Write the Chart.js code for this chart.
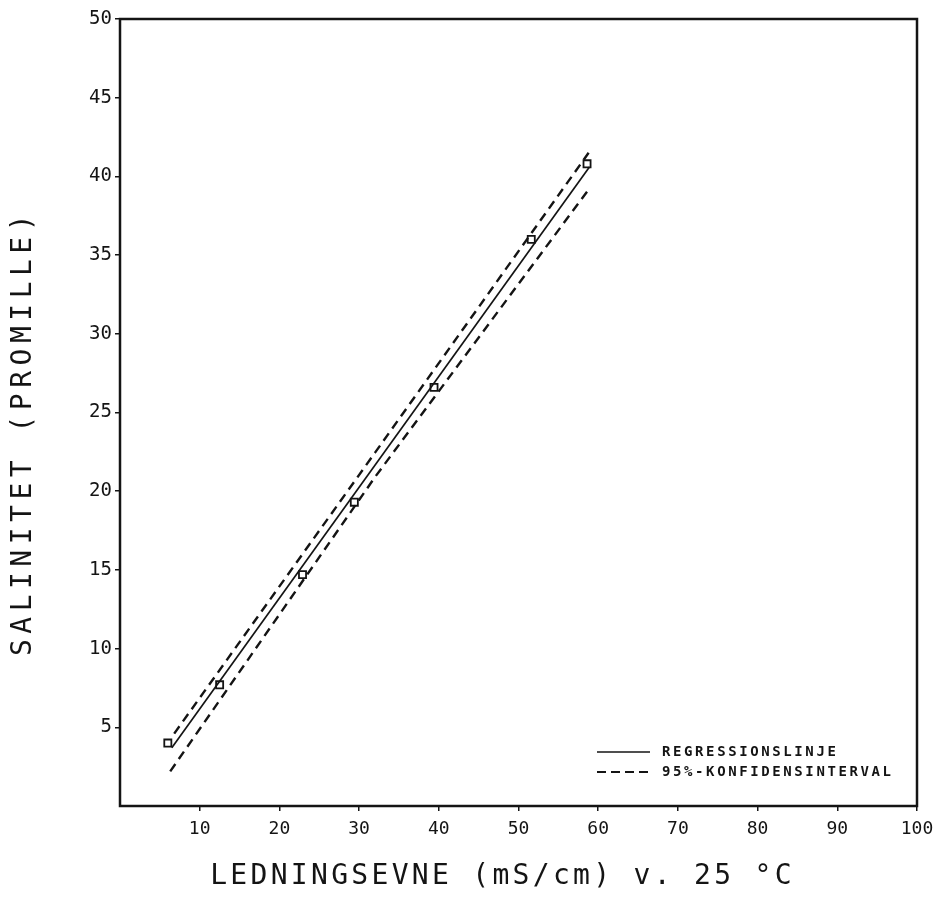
<!DOCTYPE html>
<html>
<head>
<meta charset="utf-8">
<script src="https://cdn.jsdelivr.net/npm/chart.js@4"></script>
<style>
html,body{margin:0;padding:0;background:#fff;}
#wrap{width:937px;height:898px;}
</style>
</head>
<body>
<div id="wrap"><canvas id="c" width="937" height="898"></canvas></div>
<script>
// ---- data ----
const conductivity = [6.0, 12.5, 22.9, 29.4, 39.4, 51.6, 58.6];
const salinity     = [4.0, 7.7, 14.7, 19.3, 26.6, 36.0, 40.8];

const regressionX = [6.5, 58.9];
const regressionY = [3.7, 40.6];

const upperX = [6.8, 32, 58.8];
const upperY = [4.6, 22.45, 41.5];
const lowerX = [6.3, 32, 59.0];
const lowerY = [2.2, 20.9, 39.3];

const xTicks = [10, 20, 30, 40, 50, 60, 70, 80, 90, 100];
const yTicks = [5, 10, 15, 20, 25, 30, 35, 40, 45, 50];

const xTitle = 'LEDNINGSEVNE (mS/cm) v. 25 °C';
const yTitle = 'SALINITET (PROMILLE)';
const legendLabels = ['REGRESSIONSLINJE', '95%-KONFIDENSINTERVAL'];

const INK = '#141414';
const FONT = "'DejaVu Sans Mono', 'Liberation Mono', monospace";

const pts = (xs, ys) => xs.map((x, i) => ({x: x, y: ys[i]}));

const framePlugin = {
  id: 'frame',
  beforeDraw(chart) {
    const cfg = [
      [chart.scales.y, '5.5px', 0, 20],
      [chart.scales.x, '3.3px', -16, 0]
    ];
    cfg.forEach(([s, sp, dx, dy]) => {
      if (s && !s.__ls) {
        const orig = s.drawTitle;
        s.drawTitle = function () {
          const c = this.ctx;
          c.save();
          c.letterSpacing = sp;
          c.translate(dx, dy);
          orig.apply(this, arguments);
          c.restore();
        };
        s.__ls = true;
      }
    });
  },
  beforeDatasetsDraw(chart) {
    const {ctx, chartArea: a} = chart;
    ctx.save();
    ctx.strokeStyle = INK;
    ctx.lineWidth = 2.5;
    ctx.strokeRect(a.left, a.top, a.right - a.left, a.bottom - a.top);
    ctx.restore();
  },
  afterDatasetsDraw(chart) {
    const {ctx, chartArea: a} = chart;
    const x0 = a.right - 320, x1 = a.right - 267, tx = a.right - 255;
    const rows = [a.bottom - 54, a.bottom - 34];
    const styles = [{dash: [], w: 1.6}, {dash: [9, 5], w: 2.2}];
    ctx.save();
    ctx.strokeStyle = INK;
    ctx.fillStyle = INK;
    rows.forEach((y, i) => {
      ctx.setLineDash(styles[i].dash);
      ctx.lineWidth = styles[i].w;
      ctx.beginPath();
      ctx.moveTo(x0, y);
      ctx.lineTo(x1, y);
      ctx.stroke();
      ctx.setLineDash([]);
      ctx.font = "bold 14px " + FONT;
      ctx.letterSpacing = '2.6px';
      ctx.textBaseline = 'middle';
      ctx.textAlign = 'left';
      ctx.fillText(legendLabels[i], tx, y);
      ctx.letterSpacing = '0px';
    });
    ctx.restore();
  }
};

new Chart(document.getElementById('c'), {
  type: 'scatter',
  data: {
    datasets: [
      {
        label: legendLabels[0],
        data: pts(regressionX, regressionY),
        showLine: true,
        borderColor: INK,
        borderWidth: 1.7,
        pointRadius: 0,
        fill: false
      },
      {
        label: legendLabels[1],
        data: pts(upperX, upperY),
        showLine: true,
        borderColor: INK,
        borderWidth: 2.4,
        borderDash: [9, 6],
        pointRadius: 0,
        fill: false
      },
      {
        label: legendLabels[1] + ' (nedre)',
        data: pts(lowerX, lowerY),
        showLine: true,
        borderColor: INK,
        borderWidth: 2.4,
        borderDash: [9, 6],
        pointRadius: 0,
        fill: false
      },
      {
        label: 'Målinger',
        data: pts(conductivity, salinity),
        showLine: false,
        pointStyle: 'rect',
        pointRadius: 5,
        pointBorderWidth: 1.8,
        pointBorderColor: INK,
        pointBackgroundColor: 'rgba(255,255,255,0)'
      }
    ]
  },
  options: {
    responsive: false,
    devicePixelRatio: 1,
    animation: false,
    layout: {padding: {top: 19, right: 20, left: 0, bottom: 0}},
    plugins: {
      legend: {display: false},
      tooltip: {enabled: false}
    },
    scales: {
      x: {
        type: 'linear',
        min: 0,
        max: 100,
        afterBuildTicks: (s) => { s.ticks = xTicks.map(v => ({value: v})); },
        afterFit: (s) => { s.height = 92; s.paddingRight = 0; s.paddingLeft = 0; },
        border: {display: false},
        grid: {drawOnChartArea: false, drawTicks: true, tickLength: 5, color: INK, lineWidth: 1.5},
        ticks: {color: INK, font: {family: FONT, size: 18}, padding: 8, maxRotation: 0, autoSkip: false},
        title: {display: true, text: xTitle, color: INK, font: {family: FONT, size: 28}, padding: {top: 0, bottom: 4}}
      },
      y: {
        type: 'linear',
        min: 0,
        max: 50,
        afterBuildTicks: (s) => { s.ticks = yTicks.map(v => ({value: v})); },
        afterFit: (s) => { s.width = 120; s.paddingTop = 0; s.paddingBottom = 0; },
        border: {display: false},
        grid: {drawOnChartArea: false, drawTicks: true, tickLength: 5, color: INK, lineWidth: 1.5},
        ticks: {color: INK, font: {family: FONT, size: 19}, padding: 3, autoSkip: false},
        title: {display: true, text: yTitle, color: INK, font: {family: FONT, size: 28}, padding: {top: 7, bottom: 0}}
      }
    }
  },
  plugins: [framePlugin]
});
</script>
</body>
</html>
